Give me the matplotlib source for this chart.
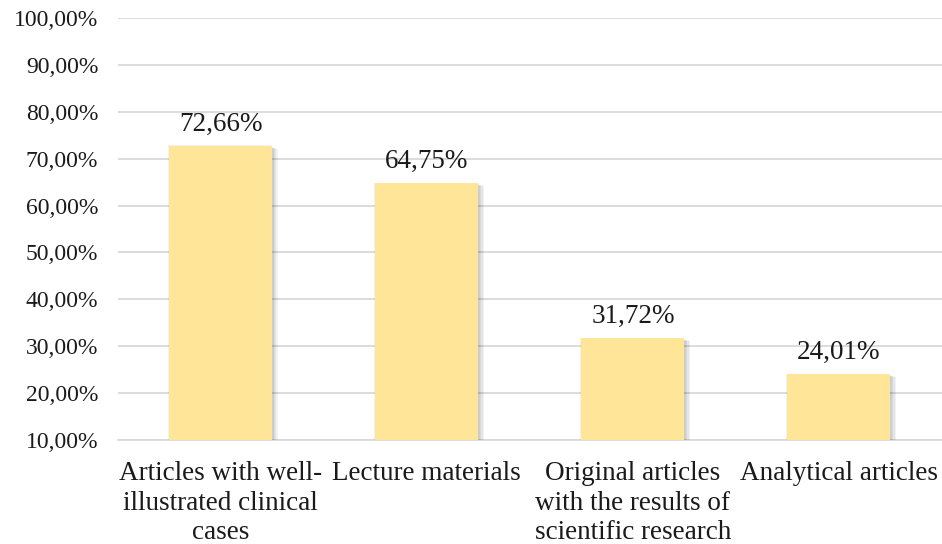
import matplotlib.pyplot as plt
import matplotlib.patheffects as pe
from matplotlib.ticker import FuncFormatter

categories = [
    "Articles with well-\nillustrated clinical\ncases",
    "Lecture materials",
    "Original articles\nwith the results of\nscientific research",
    "Analytical articles",
]
shares = [72.66, 64.75, 31.72, 24.01]
y_ticks = [10, 20, 30, 40, 50, 60, 70, 80, 90, 100]

plt.rcParams["font.family"] = ["Liberation Serif", "DejaVu Serif"]

fig = plt.figure(figsize=(9.42, 5.44), dpi=100)
ax = fig.add_axes([0.125, 0.191, 0.875, 0.776])

x = list(range(len(categories)))
# soft drop shadow built from a few faint offset copies
shadow = [
    pe.SimplePatchShadow(offset=(o, -o * 0.5), shadow_rgbFace="black", alpha=0.05)
    for o in (-1, 1, 2, 3, 4)
]
bars = ax.bar(x, shares, width=0.5, bottom=0, color="#FFE597", zorder=3,
              path_effects=shadow + [pe.Normal()])

for xi, v in zip(x, shares):
    ax.annotate(f"{v:.2f}%".replace(".", ","), (xi, v), xytext=(0, 7),
                textcoords="offset points", ha="center", va="bottom",
                fontsize=19.5, color="#1a1a1a", zorder=4)

ax.set_xlim(-0.5, len(categories) - 0.5)
ax.set_ylim(10, 100)
ax.set_yticks(y_ticks)
ax.yaxis.set_major_formatter(FuncFormatter(lambda v, _: f"{v:.2f}%".replace(".", ",")))
ax.grid(axis="y", color="#d9d9d9", linewidth=1.3, zorder=0)
ax.set_xticks(x)
ax.set_xticklabels(categories, fontsize=19.5, linespacing=1.25, color="#1a1a1a")
ax.tick_params(axis="x", length=0, pad=15)
ax.tick_params(axis="y", length=0, pad=14, labelsize=17, labelcolor="#1a1a1a")

for side in ("top", "right", "left"):
    ax.spines[side].set_visible(False)
ax.spines["bottom"].set_color("#d9d9d9")
ax.spines["bottom"].set_linewidth(1.3)

fig.savefig("out.png", dpi=100)
